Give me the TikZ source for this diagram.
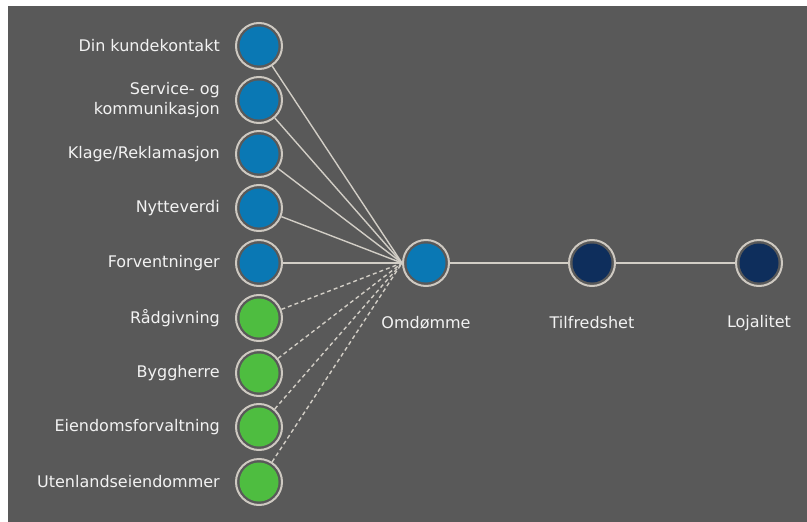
\documentclass[tikz,border=0pt]{standalone}
\usepackage{fontspec}
\setmainfont{DejaVu Sans}
\definecolor{bgcol}{HTML}{595959}
\definecolor{ringcol}{HTML}{CEC9C1}
\definecolor{linecol}{HTML}{D2CEC6}
\definecolor{bluecol}{HTML}{0A78B4}
\definecolor{greencol}{HTML}{4EBD40}
\definecolor{navycol}{HTML}{0E2E5C}
\definecolor{txtcol}{HTML}{F2F2F2}
\tikzset{
  dot/.style={circle, draw=ringcol, line width=2pt, fill=bgcol, minimum size=46pt, inner sep=0pt,
    path picture={\fill[#1] (path picture bounding box.center) circle[radius=19.5pt];}},
  lbl/.style={text=txtcol, font=\fontsize{16}{20}\selectfont, anchor=east, align=right, inner sep=0pt},
  blbl/.style={text=txtcol, font=\fontsize{16}{20}\selectfont, inner sep=0pt},
  conn/.style={draw=linecol, line width=1.4pt},
  dconn/.style={conn, dash pattern=on 4pt off 3pt},
}
\begin{document}
\begin{tikzpicture}[x=1pt,y=-1pt]
\useasboundingbox (0,0) rectangle (807,522);
\fill[white] (0,0) rectangle (807,522);
\fill[bgcol] (8,6) rectangle (807,522);
% left column
\node[dot=bluecol] (a1) at (259,46) {};
\node[dot=bluecol] (a2) at (259,100) {};
\node[dot=bluecol] (a3) at (259,154) {};
\node[dot=bluecol] (a4) at (259,208) {};
\node[dot=bluecol] (a5) at (259,263) {};
\node[dot=greencol] (a6) at (259,318) {};
\node[dot=greencol] (a7) at (259,373) {};
\node[dot=greencol] (a8) at (259,427) {};
\node[dot=greencol] (a9) at (259,482) {};
% right chain
\node[dot=bluecol] (om) at (426,263) {};
\node[dot=navycol] (ti) at (592,263) {};
\node[dot=navycol] (lo) at (759,263) {};
% labels
\node[lbl] (l1) at (220,46) {Din kundekontakt};
\node[lbl] (l2) at (220,100) {Service- og\\kommunikasjon};
\node[lbl] (l3) at (220,154) {Klage/Reklamasjon};
\node[lbl] (l4) at (220,208) {Nytteverdi};
\node[lbl] (l5) at (220,263) {Forventninger};
\node[lbl] (l6) at (220,318) {Rådgivning};
\node[lbl] (l7) at (220,373) {Byggherre};
\node[lbl] (l8) at (220,427) {Eiendomsforvaltning};
\node[lbl] (l9) at (220,482) {Utenlandseiendommer};
\node[blbl] (lom) at (426,323) {Omdømme};
\node[blbl] (lti) at (592,323) {Tilfredshet};
\node[blbl] (llo) at (759,323) {Lojalitet};
% connectors
\foreach \i in {1,...,5} \draw[conn] (a\i) -- (om.west);
\foreach \i in {6,...,9} \draw[dconn] (a\i) -- (om.west);
\draw[conn, line width=2pt] (om) -- (ti);
\draw[conn, line width=2pt] (ti) -- (lo);
\end{tikzpicture}
\end{document}
